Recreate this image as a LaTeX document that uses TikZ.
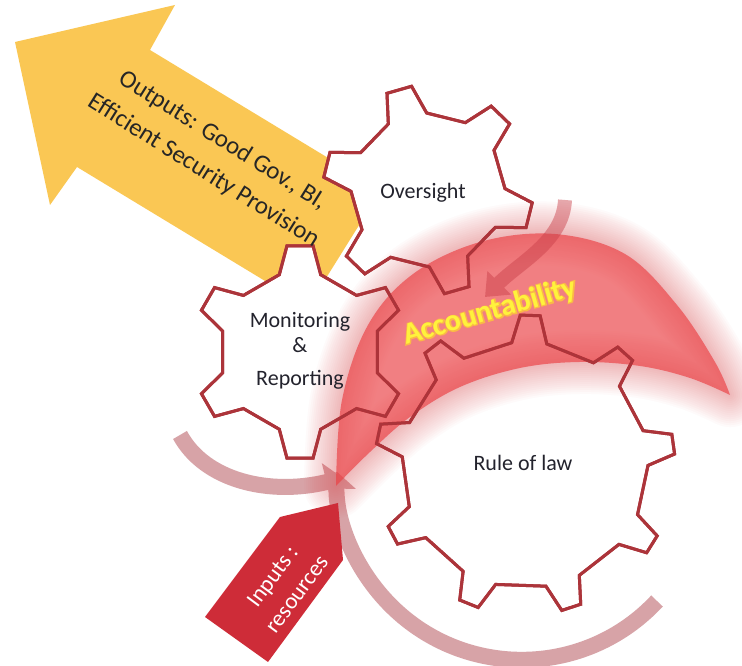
\documentclass[tikz,border=0pt]{standalone}
\usepackage{fontspec}
\setmainfont{Carlito}
\newfontfamily\accfont{Carlito}
\newfontfamily\accglowfont{Carlito}[BoldFeatures={FakeBold=7}]
\usepackage{tikz}
\usetikzlibrary{arrows.meta,positioning}

\definecolor{gearred}{RGB}{172,52,58}
\definecolor{outyellow}{RGB}{250,199,84}
\definecolor{inred}{RGB}{206,44,56}
\definecolor{crescentred}{RGB}{235,62,66}
\definecolor{pushred}{RGB}{200,60,70}
\definecolor{paleflow}{RGB}{205,140,146}
\definecolor{textgray}{RGB}{35,35,45}
\definecolor{accyellow}{RGB}{255,242,60}
\definecolor{accglow}{RGB}{250,185,70}

% gear outline: teeth/root radius/tip radius/root half angle/tip half angle/first tooth
\tikzset{
  pics/gear/.style args={#1/#2/#3/#4/#5/#6}{
    code={
      \pgfmathsetmacro\gpitch{360/#1}
      \path[pic actions] ({#6-#4}:#2)
        \foreach \k in {1,...,#1}{
          -- ({#6+(\k-1)*\gpitch-#4}:#2)
          -- ({#6+(\k-1)*\gpitch-#5}:#3)
          -- ({#6+(\k-1)*\gpitch+#5}:#3)
          -- ({#6+(\k-1)*\gpitch+#4}:#2)
        } -- cycle;
    }
  }
}
\tikzset{
  crescent/.style={insert path={
    plot[smooth, tension=0.6] coordinates {(336,180) (342,266) (368,341) (413,392) (480,424) (555,432) (625,412) (677,361) (715,304) (730,271)}
    -- plot[smooth, tension=0.6] coordinates {(730,271) (690,288) (640,300) (580,304) (520,298) (460,279) (410,249) (370,214) (336,180)}
    -- cycle}}
}

\begin{document}
\begin{tikzpicture}[
    x=1pt, y=1pt,
    gearfill/.style={draw=gearred, fill=white, line width=3pt},
    gearedge/.style={draw=gearred, line width=3pt},
    gearlabel/.style={font=\fontsize{22}{27}\selectfont, text=textgray, align=center},
    outtext/.style={font=\fontsize{25}{36}\selectfont, text=black!85, align=center},
    intext/.style={font=\fontsize{23}{30}\selectfont, text=white, align=center},
    acctext/.style={font=\fontsize{30}{32}\selectfont},
    flow/.style={draw=paleflow, line width=16pt, -{Triangle[width=38pt,length=17pt]}},
    pushflow/.style={draw=pushred, line width=14pt, -{Triangle[width=32pt,length=20pt]}}
  ]
  \fill[white] (0,0) rectangle (742,666);
  \useasboundingbox (0,0) rectangle (742,666);

  % Gear centres and flow ends
  \coordinate (oversight) at (428,476);
  \coordinate (monitoring) at (300,314);
  \coordinate (rulelaw) at (525,201);
  \coordinate (hub) at (343,188);
  \coordinate (lowstart) at (180,231);
  \coordinate (bigstart) at (657,65);
  \coordinate (pushstart) at (565,466);
  \coordinate (pushend) at (485,369);

  % Pale flows round the gears
  \begin{scope}[transparency group, opacity=0.8]
    \draw[flow] (lowstart) .. controls (205,185) and (270,170) .. (hub);
    \draw[flow] (bigstart) arc[start angle=-43, end angle=-181, radius=185];
  \end{scope}

  % Output arrow
  \fill[outyellow] (15,624) -- (175,661) -- (150,616) -- (381,476) -- (308,359) -- (77,499) -- (50,461) -- cycle;

  % Gears
  \pic[gearfill] at (oversight) {gear=6/77/105/15/7/106};
  \pic[gearfill] at (monitoring) {gear=6/80/107/15/7/90};
  \pic[gearfill] at (rulelaw) {gear=9/123/150/8.2/3.8/88};

  % Accountability band with a soft glow
  \foreach \w in {4,8,...,64}
    \draw[crescentred, line width=\w pt, draw opacity=0.022, line join=round, crescent];
  \fill[crescentred, fill opacity=0.66, crescent];

  % gear edges again over the band
  \pic[gearedge] at (oversight) {gear=6/77/105/15/7/106};
  \pic[gearedge] at (monitoring) {gear=6/80/107/15/7/90};
  \pic[gearedge] at (rulelaw) {gear=9/123/150/8.2/3.8/88};

  % Push into the band
  \begin{scope}[transparency group, opacity=0.45]
    \draw[pushflow] (pushstart) .. controls (563,425) and (520,404) .. (pushend);
  \end{scope}

  % Input arrow
  \fill[inred] (205,49) -- (280,149) -- (338,163) -- (343,106) -- (268,4) -- cycle;

  % Labels
  \node[gearlabel] (oversightlabel) at (423,473) {Oversight};
  \node[gearlabel] (monitoringlabel) at (300,315) {Monitoring\\[-2pt]\&\\[6pt]Reporting};
  \node[gearlabel] (rulelabel) at (523,203) {Rule of law};
  \node[outtext, rotate=-32] (outputs) at (213,510) {Outputs: Good Gov., BI,\\Efficient Security Provision};
  \node[intext, rotate=53.5] (inputs) at (284.5,81) {Inputs :\\resources};
  \node[acctext, rotate=16] (accountability) at (490,354)
    {\rlap{\accglowfont\bfseries\color{accglow}Accountability}{\accfont\bfseries\color{accyellow}Accountability}};
\end{tikzpicture}
\end{document}
